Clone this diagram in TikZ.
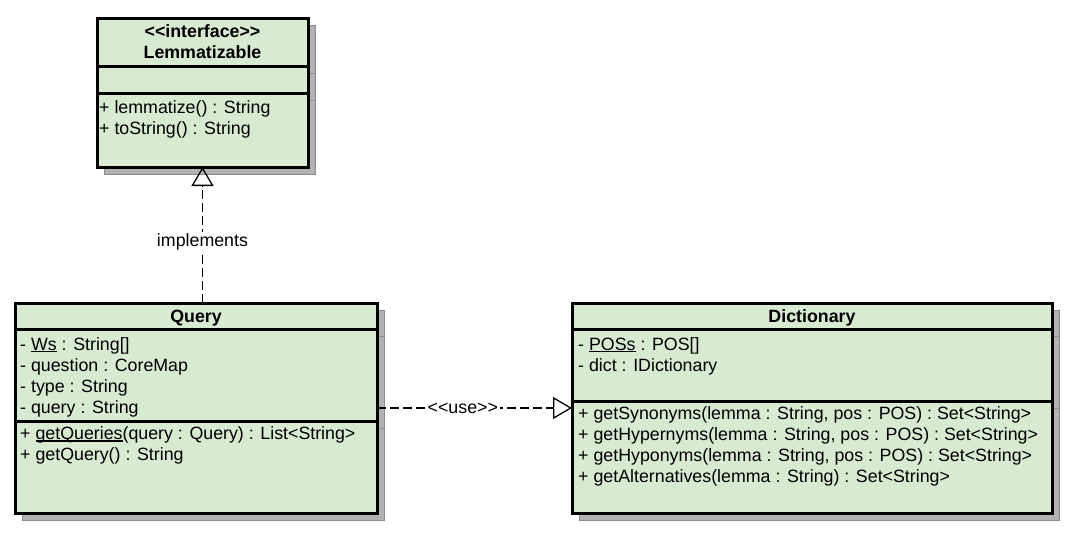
\documentclass[tikz,border=0pt]{standalone}
\usepackage{fontspec}
\setmainfont{Liberation Sans}
\usetikzlibrary{arrows.meta, positioning, shadows}

\definecolor{umlgreen}{HTML}{D9EAD3}
\newcommand{\umlfont}{\fontsize{17.8}{21}\selectfont}
\newcommand{\umlstatic}[1]{\setbox0\hbox{#1}\rlap{\rule[-2.2pt]{\wd0}{1.2pt}}\box0\relax}
\newcommand{\stereo}[1]{<\kern0pt<#1>\kern0pt>}

\begin{document}
\begin{tikzpicture}[x=1pt, y=-1pt,
    part/.style={draw, line width=3pt, fill=umlgreen, inner sep=0pt, outer sep=0pt,
                 general shadow={fill=black!30, draw=black!45, line width=1pt,
                                 shadow xshift=7pt, shadow yshift=-7pt}},
    title/.style={part, font=\umlfont\bfseries, align=center},
    headline/.style={title, text height=15pt, text depth=2pt},
    members/.style={anchor=north west, inner sep=0pt, align=left, font=\umlfont},
    dep/.style={line width=1.4pt, dash pattern=on 9pt off 4pt},
    realize/.style={dep, -{Triangle[open, length=19pt, width=22pt, line width=1.3pt]}},
    tag/.style={fill=white, inner sep=2pt, font=\umlfont}
  ]
  \useasboundingbox (0,0) rectangle (1068,533);

  % --- Lemmatizable interface ---
  \node[title, anchor=north west, minimum width=211pt, minimum height=48pt] (lhead) at (97,18)
    {\stereo{interface}\\Lemmatizable};
  \node[part, below=0pt of lhead, minimum width=211pt, minimum height=27pt] (lattr) {};
  \node[part, below=0pt of lattr, minimum width=211pt, minimum height=74pt] (lmeth) {};
  \node[members] (lops) at (99,98.5) {\strut+ lemmatize() : String\\+ toString() : String};

  % --- Query class ---
  \node[headline, anchor=north west, minimum width=362pt, minimum height=26pt] (qhead) at (15,303) {Query};
  \node[part, below=0pt of qhead, minimum width=362pt, minimum height=92pt] (qattr) {};
  \node[part, below=0pt of qattr, minimum width=362pt, minimum height=92pt] (qmeth) {};
  \node[members] (qfields) at (20,335.3)
    {\strut- \umlstatic{Ws} : String[]\\- question : CoreMap\\- type : String\\- query : String};
  \node[members] (qops) at (20,424.5)
    {\strut+ \umlstatic{getQueries}(query : Query) : List<String>\\+ getQuery() : String};

  % --- Dictionary class ---
  \node[headline, anchor=north west, minimum width=480pt, minimum height=26pt] (dhead) at (572,303) {Dictionary};
  \node[part, below=0pt of dhead, minimum width=480pt, minimum height=72pt] (dattr) {};
  \node[part, below=0pt of dattr, minimum width=480pt, minimum height=112pt] (dmeth) {};
  \node[members] (dfields) at (578,335.3)
    {\strut- \umlstatic{POSs} : POS[]\\- dict : IDictionary};
  \node[members] (dops) at (578,405)
    {\strut+ getSynonyms(lemma : String, pos : POS) : Set<String>\\
     + getHypernyms(lemma : String, pos : POS) : Set<String>\\
     + getHyponyms(lemma : String, pos : POS) : Set<String>\\
     + getAlternatives(lemma : String) : Set<String>};

  % --- relations ---
  \draw[realize] (lmeth.south |- qhead.north) -- node[tag, pos=0.45] (impl) {implements} (lmeth.south);
  \coordinate (usey) at (0,408);
  \draw[realize] (qattr.east |- usey) -- node[tag, pos=0.44] (use) {\stereo{use}} (dmeth.west |- usey);

\end{tikzpicture}
\end{document}
